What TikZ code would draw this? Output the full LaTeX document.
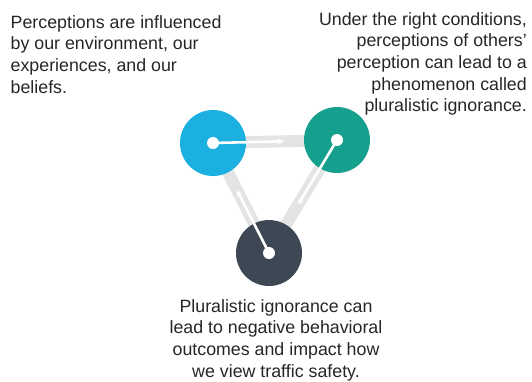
\documentclass[tikz,border=0pt]{standalone}
\usepackage{fontspec}
\setmainfont{Liberation Sans}
\usetikzlibrary{calc,backgrounds,arrows.meta}
\definecolor{cblue}{HTML}{1BB0E0}
\definecolor{cteal}{HTML}{14A08C}
\definecolor{cdark}{HTML}{3D4854}
\definecolor{cband}{HTML}{E4E4E4}
\definecolor{ctext}{HTML}{262626}
\tikzset{
  disc/.style={circle,minimum size=66pt,inner sep=0pt,draw=none},
  band/.style={draw=cband,line width=12pt},
  spoke/.style={draw=white,line width=2.6pt,-{Stealth[length=6pt,width=6pt]}},
  hub/.style={circle,fill=white,minimum size=12pt,inner sep=0pt},
  txt/.style={inner sep=0pt,text=ctext,font=\fontsize{17.8}{21.7}\selectfont}
}
\begin{document}
\begin{tikzpicture}[x=1pt,y=-1pt]
\useasboundingbox (0,0) rectangle (532,381);
\node[disc,fill=cblue] (b) at (213,143) {};
\node[disc,fill=cteal] (t) at (337,140) {};
\node[disc,fill=cdark] (d) at (269,253) {};
\begin{scope}[on background layer]
\draw[band] (b.center) -- (t.center);
\draw[band] (t.center) -- (d.center);
\draw[band] (d.center) -- (b.center);
\end{scope}
\coordinate (bt) at ($(b.center)!0.57!(t.center)$);
\coordinate (td) at ($(t.center)!0.57!(d.center)$);
\coordinate (db) at ($(d.center)!0.57!(b.center)$);
\draw[spoke] (b.center) -- (bt);
\draw[spoke] (t.center) -- (td);
\draw[spoke] (d.center) -- (db);
\node[hub] (bh) at (b.center) {};
\node[hub] (th) at (t.center) {};
\node[hub] (dh) at (d.center) {};
\node[txt,anchor=north west,align=left] (toplefttext) at (10.5,15) {Perceptions are influenced\\by our environment, our\\experiences, and our\\beliefs.};
\node[txt,anchor=north east,align=right] (toprighttext) at (527,12) {Under the right conditions,\\perceptions of others\symbol{39}\\perception can lead to a\\phenomenon called\\pluralistic ignorance.};
\node[txt,anchor=north,align=center] (bottomtext) at (276,299) {Pluralistic ignorance can\\lead to negative behavioral\\outcomes and impact how\\we view traffic safety.};
\end{tikzpicture}
\end{document}
